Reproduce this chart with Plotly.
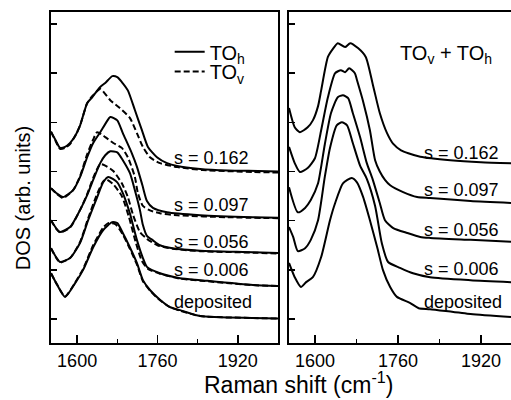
import plotly.graph_objects as go

# ---------------- data ----------------
# Left panel: TO_h (solid) and TO_v (dashed) for each sample
LH162_x = [1548, 1558, 1566, 1576, 1586, 1596, 1606, 1620, 1630, 1646, 1656, 1670, 1680, 1689, 1701, 1715, 1729, 1741, 1759, 1779, 1799, 1845, 1900, 1960, 2000]
LH162_y = [3.81, 3.62, 3.48, 3.50, 3.58, 3.72, 3.94, 4.39, 4.51, 4.72, 4.80, 4.94, 4.92, 4.82, 4.65, 4.25, 3.84, 3.50, 3.29, 3.17, 3.11, 3.05, 3.02, 3.01, 3.00]
LV162_x = [1548, 1558, 1566, 1576, 1586, 1596, 1606, 1620, 1630, 1646, 1666, 1685, 1705, 1719, 1731, 1745, 1765, 1800, 1850, 1950, 2000]
LV162_y = [3.81, 3.60, 3.46, 3.48, 3.56, 3.72, 3.94, 4.39, 4.53, 4.68, 4.45, 4.29, 4.09, 3.78, 3.50, 3.29, 3.17, 3.09, 3.03, 2.99, 2.98]

LH097_x = [1548, 1560, 1572, 1592, 1606, 1620, 1632, 1646, 1658, 1666, 1680, 1691, 1709, 1719, 1730, 1739, 1751, 1779, 1845, 1950, 2000]
LH097_y = [2.66, 2.55, 2.48, 2.62, 2.89, 3.29, 3.58, 3.80, 4.00, 4.11, 4.04, 3.78, 3.37, 3.10, 2.72, 2.40, 2.26, 2.17, 2.11, 2.07, 2.06]
LV097_x = [1548, 1560, 1572, 1592, 1606, 1620, 1632, 1640, 1656, 1672, 1689, 1701, 1715, 1721, 1731, 1745, 1765, 1800, 1900, 2000]
LV097_y = [2.66, 2.54, 2.46, 2.62, 2.91, 3.35, 3.65, 3.80, 3.70, 3.58, 3.48, 3.29, 2.89, 2.56, 2.30, 2.21, 2.15, 2.11, 2.07, 2.05]

LH056_x = [1548, 1558, 1566, 1586, 1606, 1620, 1632, 1646, 1656, 1666, 1680, 1691, 1705, 1715, 1725, 1731, 1739, 1751, 1765, 1790, 1845, 1950, 2000]
LH056_y = [2.01, 1.85, 1.77, 1.87, 2.22, 2.52, 2.83, 3.17, 3.33, 3.41, 3.39, 3.23, 2.97, 2.62, 2.22, 1.91, 1.69, 1.60, 1.50, 1.44, 1.39, 1.36, 1.34]
LV056_x = [1548, 1558, 1566, 1586, 1606, 1620, 1632, 1646, 1656, 1672, 1689, 1701, 1711, 1725, 1739, 1760, 1790, 1845, 1950, 2000]
LV056_y = [2.01, 1.84, 1.76, 1.86, 2.22, 2.54, 2.87, 3.15, 3.12, 3.01, 2.76, 2.48, 2.13, 1.77, 1.63, 1.50, 1.43, 1.38, 1.35, 1.33]

LH006_x = [1548, 1558, 1566, 1586, 1606, 1622, 1640, 1652, 1662, 1680, 1691, 1705, 1719, 1731, 1739, 1765, 1805, 1845, 1950, 2000]
LH006_y = [1.44, 1.26, 1.16, 1.24, 1.55, 2.01, 2.48, 2.78, 2.89, 2.78, 2.56, 2.15, 1.61, 1.24, 1.06, 0.93, 0.83, 0.79, 0.69, 0.67]
LV006_x = [1548, 1558, 1566, 1586, 1606, 1622, 1640, 1652, 1658, 1672, 1689, 1703, 1717, 1729, 1741, 1765, 1805, 1845, 1950, 2000]
LV006_y = [1.44, 1.25, 1.15, 1.24, 1.57, 2.05, 2.55, 2.80, 2.84, 2.74, 2.50, 2.08, 1.55, 1.18, 1.02, 0.92, 0.82, 0.78, 0.69, 0.67]

LHdep_x = [1548, 1560, 1576, 1596, 1612, 1632, 1652, 1670, 1680, 1691, 1705, 1719, 1731, 1745, 1765, 1785, 1805, 1845, 1950, 2000]
LHdep_y = [0.93, 0.70, 0.45, 0.73, 1.00, 1.46, 1.81, 1.97, 1.95, 1.75, 1.46, 1.14, 0.79, 0.59, 0.39, 0.24, 0.18, 0.06, 0.02, 0.01]
LVdep_x = [1548, 1560, 1576, 1596, 1612, 1632, 1652, 1662, 1676, 1691, 1705, 1719, 1731, 1745, 1765, 1785, 1805, 1845, 1950, 2000]
LVdep_y = [0.93, 0.70, 0.46, 0.74, 1.02, 1.50, 1.86, 1.95, 1.93, 1.72, 1.43, 1.11, 0.77, 0.58, 0.38, 0.24, 0.17, 0.06, 0.02, 0.01]

# Right panel: TO_v + TO_h
R162_x = [1550, 1561, 1571, 1586, 1596, 1606, 1612, 1625, 1635, 1644, 1658, 1668, 1683, 1698, 1712, 1725, 1739, 1751, 1766, 1780, 1803, 1861, 1920, 1978]
R162_y = [4.29, 3.90, 3.80, 3.90, 4.04, 4.33, 4.65, 5.33, 5.50, 5.61, 5.53, 5.61, 5.51, 5.33, 4.75, 4.19, 3.78, 3.56, 3.43, 3.37, 3.30, 3.23, 3.19, 3.17]
R097_x = [1550, 1561, 1571, 1586, 1600, 1612, 1625, 1639, 1650, 1658, 1666, 1677, 1681, 1693, 1706, 1716, 1725, 1735, 1745, 1770, 1797, 1822, 1900, 1978]
R097_y = [3.50, 3.17, 2.99, 3.07, 3.27, 3.84, 4.51, 5.00, 5.06, 5.02, 5.10, 5.00, 4.86, 4.42, 3.84, 3.23, 3.00, 2.83, 2.72, 2.58, 2.48, 2.46, 2.40, 2.36]
R056_x = [1550, 1567, 1581, 1592, 1606, 1612, 1619, 1631, 1644, 1654, 1664, 1673, 1687, 1700, 1711, 1725, 1735, 1751, 1778, 1803, 1822, 1900, 1978]
R056_y = [2.68, 2.17, 2.26, 2.42, 2.76, 3.10, 3.55, 4.19, 4.51, 4.55, 4.49, 4.19, 3.70, 3.17, 2.85, 2.36, 2.01, 1.85, 1.75, 1.67, 1.65, 1.61, 1.57]
R006_x = [1550, 1558, 1567, 1581, 1592, 1606, 1619, 1629, 1642, 1652, 1662, 1673, 1687, 1700, 1716, 1729, 1741, 1764, 1789, 1822, 1900, 1978]
R006_y = [1.87, 1.67, 1.38, 1.44, 1.61, 2.01, 2.89, 3.48, 3.94, 4.00, 3.94, 3.58, 3.12, 2.85, 2.30, 1.54, 1.16, 1.04, 0.93, 0.85, 0.79, 0.75]
Rdep_x = [1550, 1561, 1573, 1583, 1596, 1612, 1629, 1639, 1654, 1671, 1681, 1693, 1706, 1720, 1731, 1745, 1758, 1783, 1800, 1822, 1900, 1978]
Rdep_y = [1.14, 0.85, 0.65, 0.75, 0.85, 1.26, 2.01, 2.36, 2.76, 2.87, 2.78, 2.48, 2.01, 1.46, 1.00, 0.65, 0.45, 0.33, 0.22, 0.20, 0.10, 0.04]

sample_labels = ["s = 0.162", "s = 0.097", "s = 0.056", "s = 0.006", "deposited"]
left_label_y = [3.27, 2.32, 1.57, 1.00, 0.35]
right_label_y = [3.37, 2.62, 1.81, 1.02, 0.35]

x_ticks = [1600, 1760, 1920]
y_ticks = [0, 1, 2, 3, 4, 5, 6]

# ---------------- figure ----------------
FONT = "Liberation Sans, Arial, Helvetica, sans-serif"
fig = go.Figure()

left_solid = [(LH162_x, LH162_y), (LH097_x, LH097_y), (LH056_x, LH056_y), (LH006_x, LH006_y), (LHdep_x, LHdep_y)]
left_dash = [(LV162_x, LV162_y), (LV097_x, LV097_y), (LV056_x, LV056_y), (LV006_x, LV006_y), (LVdep_x, LVdep_y)]
right_curves = [(R162_x, R162_y), (R097_x, R097_y), (R056_x, R056_y), (R006_x, R006_y), (Rdep_x, Rdep_y)]

for i, (xs, ys) in enumerate(left_dash):
    fig.add_trace(go.Scatter(x=xs, y=ys, mode="lines", xaxis="x", yaxis="y",
                             line=dict(color="black", width=2, dash="6px,3px", shape="spline", smoothing=0.6),
                             name="TO<sub>v</sub>", showlegend=(i == 0), legend="legend2"))
for i, (xs, ys) in enumerate(left_solid):
    fig.add_trace(go.Scatter(x=xs, y=ys, mode="lines", xaxis="x", yaxis="y",
                             line=dict(color="black", width=2, shape="spline", smoothing=0.6),
                             name="TO<sub>h</sub>", showlegend=(i == 0), legend="legend"))
for xs, ys in right_curves:
    fig.add_trace(go.Scatter(x=xs, y=ys, mode="lines", xaxis="x2", yaxis="y2",
                             line=dict(color="black", width=2, shape="spline", smoothing=0.6),
                             showlegend=False))

annotations = []
for lab, yv in zip(sample_labels, left_label_y):
    annotations.append(dict(x=1789, y=yv, xref="x", yref="y", text=lab, showarrow=False,
                            xanchor="left", yanchor="middle", font=dict(size=18, color="black", family=FONT)))
for lab, yv in zip(sample_labels, right_label_y):
    annotations.append(dict(x=1807, y=yv, xref="x2", yref="y2", text=lab, showarrow=False,
                            xanchor="left", yanchor="middle", font=dict(size=18, color="black", family=FONT)))
annotations.append(dict(x=1853, y=5.37, xref="x2", yref="y2", text="TO<sub>v</sub> + TO<sub>h</sub>",
                        showarrow=False, xanchor="center", yanchor="middle",
                        font=dict(size=20, color="black", family=FONT)))
annotations.append(dict(x=0.537, y=-0.12, xref="paper", yref="paper", text="Raman shift (cm<sup>-1</sup>)",
                        showarrow=False, xanchor="center", yanchor="middle",
                        font=dict(size=23, color="black", family=FONT)))
annotations.append(dict(x=-0.061, y=0.437, xref="paper", yref="paper", text="DOS (arb. units)",
                        showarrow=False, textangle=-90, xanchor="center", yanchor="middle",
                        font=dict(size=20, color="black", family=FONT)))

xaxis_common = dict(showline=True, linewidth=2, linecolor="black", mirror=True, showgrid=False, zeroline=False,
                    ticks="inside", ticklen=8, tickwidth=1.5, tickcolor="black", tickvals=x_ticks,
                    tickfont=dict(size=18, color="black", family=FONT),
                    minor=dict(ticks="inside", ticklen=4, tickwidth=1.5, tickcolor="black", dtick=80, tick0=1600))
yaxis_common = dict(showline=True, linewidth=2, linecolor="black", showgrid=False, zeroline=False,
                    ticks="inside", ticklen=6, tickwidth=1.5, tickcolor="black", tickvals=y_ticks,
                    showticklabels=False, range=[-0.488, 6.244])

fig.update_layout(
    width=511, height=400,
    margin=dict(l=51, r=0, t=12, b=57),
    paper_bgcolor="white", plot_bgcolor="white",
    font=dict(family=FONT, color="black"),
    xaxis=dict(domain=[0, 0.4935], range=[1548, 2000], **xaxis_common),
    xaxis2=dict(domain=[0.5174, 1.0], range=[1550, 1978], anchor="y2", **xaxis_common),
    yaxis=dict(domain=[0, 1], anchor="x", mirror=True, **yaxis_common),
    yaxis2=dict(domain=[0, 1], anchor="x2", mirror=False, **yaxis_common),
    legend=dict(x=0.258, y=0.88, xanchor="left", yanchor="middle", bgcolor="rgba(0,0,0,0)",
                font=dict(size=20, color="black", family=FONT), borderwidth=0),
    legend2=dict(x=0.258, y=0.82, xanchor="left", yanchor="middle", bgcolor="rgba(0,0,0,0)",
                 font=dict(size=20, color="black", family=FONT), borderwidth=0),
    annotations=annotations,
)

fig.write_html("out.html", config={"displayModeBar": False, "staticPlot": True},
               post_script="document.body.style.margin='0';document.body.style.overflow='hidden';")
